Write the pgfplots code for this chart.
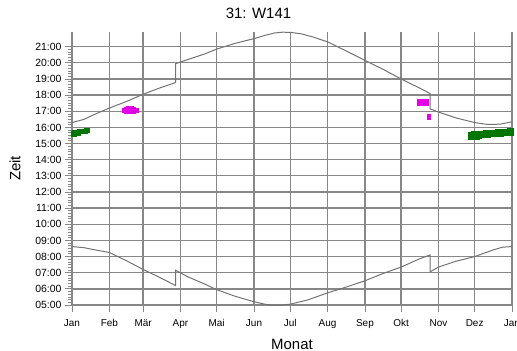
\documentclass[border=0pt]{standalone}
\usepackage{fontspec}
\setmainfont{Liberation Sans}
\usepackage{pgfplots}
\pgfplotsset{compat=1.18}
\definecolor{gridgray}{RGB}{135,135,135}
\definecolor{curvegray}{RGB}{115,115,115}
\definecolor{mgreen}{RGB}{0,118,0}
\definecolor{mmag}{RGB}{228,0,228}
\begin{document}
\begin{tikzpicture}
\path[use as bounding box] (-72bp,-46bp) rectangle (445bp,305bp);
\begin{axis}[
  at={(0,0)}, anchor=south west, scale only axis,
  width=440bp, height=273bp,
  xmin=0, xmax=365, ymin=5, ymax=21.91,
  axis x line*=bottom, axis y line*=left,
  xtick={0,31,59,90,120,151,181,212,243,273,304,334,365},
  xticklabels={Jan,Feb,Mär,Apr,Mai,Jun,Jul,Aug,Sep,Okt,Nov,Dez,Jan},
  minor x tick num=3,
  ytick={5,6,7,8,9,10,11,12,13,14,15,16,17,18,19,20,21},
  yticklabels={05:00,06:00,07:00,08:00,09:00,10:00,11:00,12:00,13:00,14:00,15:00,16:00,17:00,18:00,19:00,20:00,21:00},
  minor y tick num=5,
  tick align=outside,
  major tick length=7bp, minor tick length=4bp,
  grid=major,
  major grid style={gridgray, line width=1.3bp},
  axis line style={gridgray, line width=1.3bp},
  every tick/.style={gridgray, line width=0.8bp},
  xticklabel style={font=\fontsize{10}{12}\selectfont, yshift=-4bp},
  yticklabel style={font=\fontsize{10.5}{12}\selectfont},
  xlabel={Monat},
  xlabel style={at={(axis description cs:0.5,-0.1612)}, anchor=base, font=\fontsize{15}{18}\selectfont},
  ylabel={Zeit},
  ylabel style={at={(axis description cs:-0.1295,0.5)}, anchor=center, rotate=0, font=\fontsize{15}{18}\selectfont},
  clip=false,
]
% sunset
\addplot[curvegray, line width=1bp, sharp plot] coordinates {
(0,16.30) (10,16.50) (20,16.85) (31,17.20) (45,17.60) (59,18.05) (73,18.45) (86,18.78)
(86,19.95) (96,20.20) (110,20.55) (120,20.85) (135,21.20) (151,21.50) (160,21.70)
(168,21.85) (175,21.90) (182,21.88) (190,21.80) (200,21.60) (212,21.30) (227,20.75)
(243,20.15) (258,19.60) (273,19.00) (288,18.45) (297,18.10)
(297,17.15) (304,16.95) (318,16.60) (334,16.30) (345,16.18) (355,16.20) (365,16.35)
};
% sunrise
\addplot[curvegray, line width=1bp, sharp plot] coordinates {
(0,8.62) (10,8.55) (20,8.40) (31,8.25) (45,7.75) (59,7.20) (73,6.70) (86,6.20)
(86,7.15) (96,6.75) (110,6.30) (120,5.95) (135,5.55) (151,5.20) (160,5.05)
(165,5.00) (175,5.00) (181,5.05) (195,5.30) (212,5.75) (227,6.10) (243,6.50)
(258,6.95) (273,7.35) (288,7.85) (297,8.10)
(297,7.05) (304,7.35) (318,7.70) (334,8.00) (349,8.40) (357,8.58) (365,8.62)
};
% green, January
\addplot[only marks, mark=square*, mark size=2bp, mgreen, mark options={draw=mgreen, fill=mgreen}] coordinates {
(1,15.66) (2,15.68) (3,15.70) (4,15.71) (5,15.73) (6,15.74) (7,15.75) (8,15.76)
(9,15.77) (10,15.78) (11,15.79) (12,15.80) (13,15.81) (1,15.60) (2,15.61) (3,15.63) (4,15.64) (5,15.66)
};
% magenta, February
\addplot[only marks, mark=square*, mark size=2bp, mmag, mark options={draw=mmag, fill=mmag}] coordinates {
(43,17.08) (45,17.08) (47,17.09) (49,17.09) (51,17.08) (53,17.08) (45,17.00) (47,17.00)
(49,17.01) (51,17.00) (45,17.15) (47,17.16) (49,17.16) (51,17.15)
};
% magenta, October
\addplot[only marks, mark=square*, mark size=2bp, mmag, mark options={draw=mmag, fill=mmag}] coordinates {
(288,17.62) (290,17.62) (292,17.61) (294,17.60) (288,17.52) (290,17.52) (292,17.51) (294,17.50)
};
\addplot[only marks, mark=square*, mark size=1.5bp, mmag, mark options={draw=mmag, fill=mmag}] coordinates {
(296,16.62) (296,16.72)
};
% green, December
\addplot[only marks, mark=square*, mark size=2bp, mgreen, mark options={draw=mgreen, fill=mgreen}] coordinates {
(330,15.45) (331,15.455) (332,15.46) (333,15.465) (334,15.47) (335,15.48) (336,15.49) (337,15.495) (338,15.50) (339,15.505) (340,15.51)
(341,15.515) (342,15.52) (343,15.525) (344,15.53) (345,15.54) (346,15.55) (347,15.555) (348,15.56) (349,15.565) (350,15.57)
(351,15.575) (352,15.58) (353,15.585) (354,15.59) (355,15.60) (356,15.61) (357,15.615) (358,15.62) (359,15.625) (360,15.63)
(361,15.635) (362,15.64) (363,15.65) (364,15.66)
(330,15.60) (331,15.605) (332,15.61) (333,15.615) (334,15.62) (335,15.63) (336,15.64) (337,15.645) (338,15.65) (339,15.655) (340,15.66)
(341,15.665) (342,15.67) (343,15.675) (344,15.68) (345,15.69) (346,15.70) (347,15.705) (348,15.71) (349,15.715) (350,15.72)
(351,15.725) (352,15.73) (353,15.735) (354,15.74) (355,15.75) (356,15.76) (357,15.765) (358,15.77) (359,15.775) (360,15.78)
(361,15.785) (362,15.79) (363,15.80) (364,15.81)
(330,15.40) (332,15.405) (334,15.41) (336,15.42) (338,15.43)
};
\end{axis}
\node[anchor=base, font=\fontsize{15}{18}\selectfont] at (186.5bp,286.7bp) {31: W141};
\end{tikzpicture}
\end{document}
